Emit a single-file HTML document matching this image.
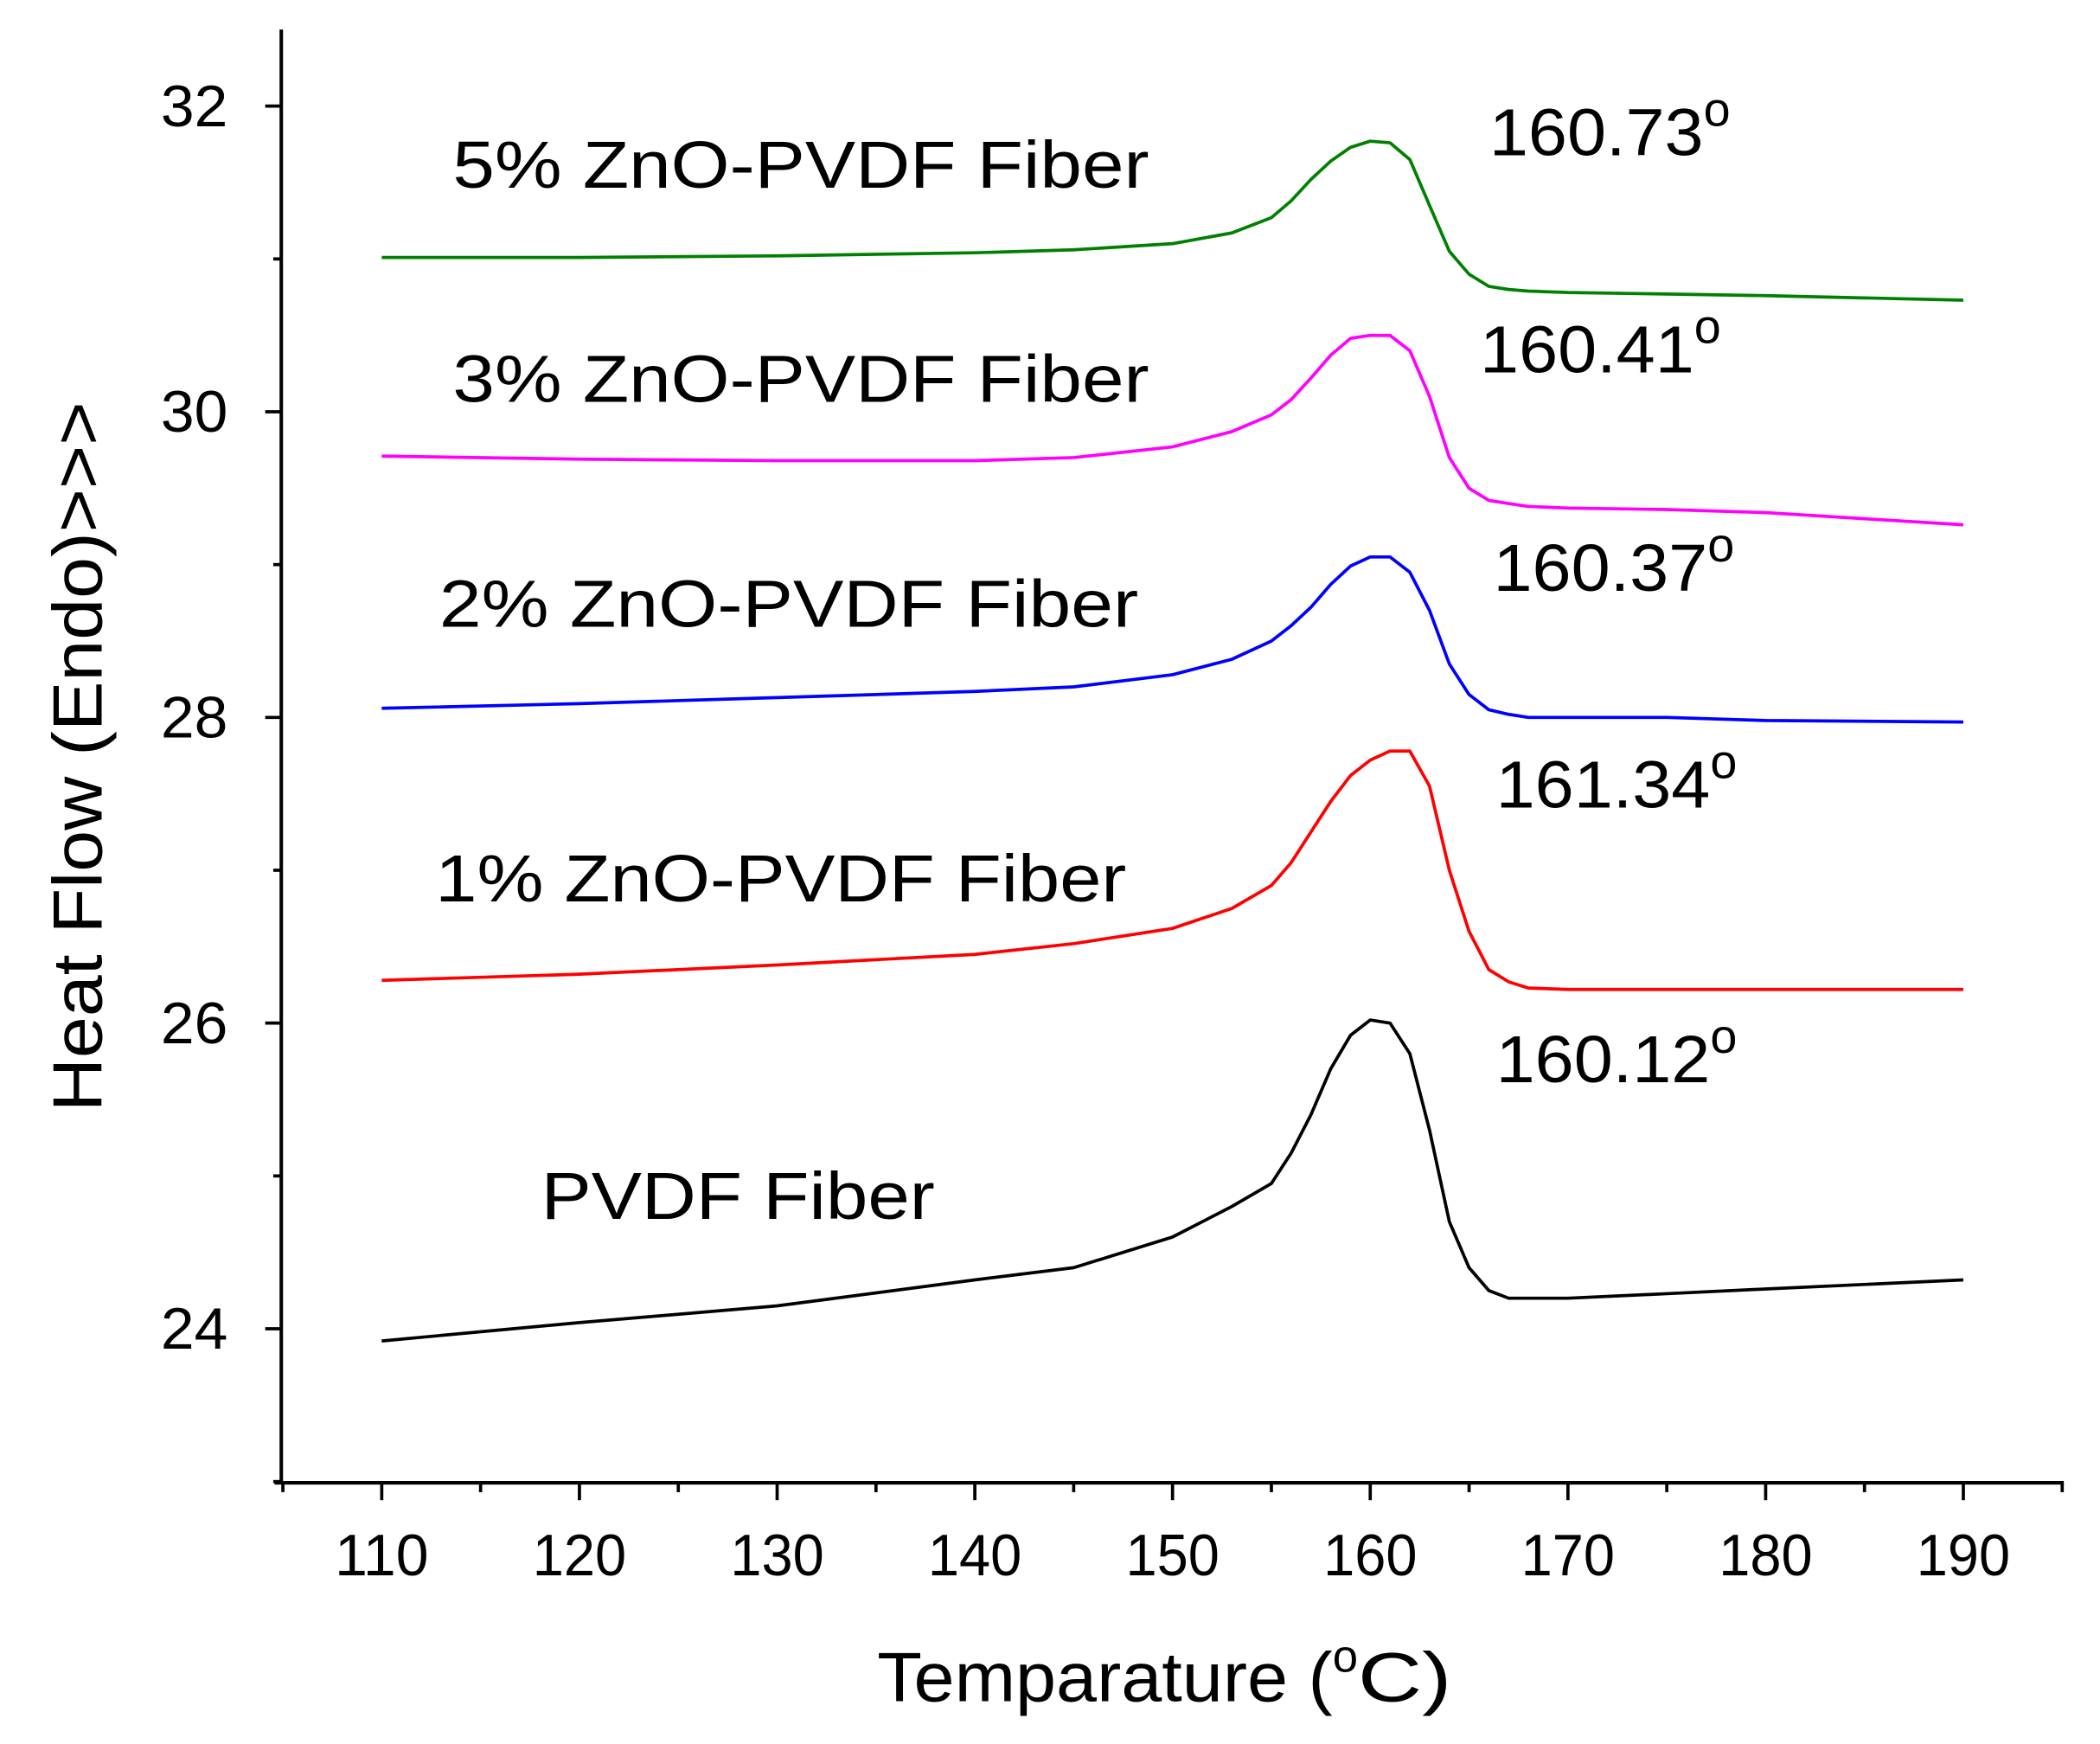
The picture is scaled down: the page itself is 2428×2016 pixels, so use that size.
<!DOCTYPE html>
<html><head><meta charset="utf-8"><style>
html,body{margin:0;padding:0;background:#fff}
svg{display:block}
text{font-family:"Liberation Sans",Arial,sans-serif;fill:#000}
</style></head><body>
<svg id="chart" width="2428" height="2016" viewBox="0 0 1568 1302" xmlns="http://www.w3.org/2000/svg">
<g id="axes"></g>
<g id="series"></g>
<g id="labels"></g>
</svg>
<script>
const xTicks = [110,120,130,140,150,160,170,180,190];
const yTicks = [24,26,28,30,32];
const temps = [110,120,130,140,145,150,153,155,156,157,158,159,160,161,162,163,164,165,166,167,168,170,175,180,190];
const pvdf  = [23.92,24.04,24.15,24.32,24.4,24.6,24.8,24.95,25.15,25.4,25.7,25.92,26.02,26.0,25.8,25.3,24.7,24.4,24.25,24.2,24.2,24.2,24.23,24.26,24.32];
const zno1  = [26.28,26.32,26.38,26.45,26.52,26.62,26.75,26.9,27.05,27.25,27.45,27.62,27.72,27.78,27.78,27.55,27.0,26.6,26.35,26.27,26.23,26.22,26.22,26.22,26.22];
const zno2  = [28.06,28.09,28.13,28.17,28.2,28.28,28.38,28.5,28.6,28.72,28.87,28.99,29.05,29.05,28.95,28.7,28.35,28.15,28.05,28.02,28.0,28.0,28.0,27.98,27.97];
const zno3  = [29.71,29.69,29.68,29.68,29.7,29.77,29.87,29.98,30.08,30.22,30.37,30.48,30.5,30.5,30.4,30.1,29.7,29.5,29.42,29.4,29.38,29.37,29.36,29.34,29.26];
const zno5  = [31.01,31.01,31.02,31.04,31.06,31.1,31.17,31.27,31.38,31.52,31.64,31.73,31.77,31.76,31.65,31.35,31.05,30.9,30.82,30.8,30.79,30.78,30.77,30.76,30.73];
const seriesNames = ["pvdf-fiber","zno-1pct","zno-2pct","zno-3pct","zno-5pct"];
const seriesColors = ["#000000","#ff0000","#0000ff","#ff00ff","#008000"];
const seriesLabels = ["PVDF Fiber","1% ZnO-PVDF Fiber","2% ZnO-PVDF Fiber","3% ZnO-PVDF Fiber","5% ZnO-PVDF Fiber"];
const peakLabels = ["160.12","161.34","160.37","160.41","160.73"];

const NS="http://www.w3.org/2000/svg";
const X=t=>285+(t-110)*14.7625;
const Y=v=>992-(v-24)*114.1;
function mk(tag,attrs,parent,txt){const e=document.createElementNS(NS,tag);for(const k in attrs)e.setAttribute(k,attrs[k]);if(txt!==undefined)e.textContent=txt;parent.appendChild(e);return e;}
const axes=document.getElementById('axes'),ser=document.getElementById('series'),lab=document.getElementById('labels');
let e;
e=mk('line',{x1:210,y1:22,x2:210,y2:1108,stroke:'#000','stroke-width':2.6},axes);


e=mk('line',{x1:205,y1:1107,x2:1541,y2:1107,stroke:'#000','stroke-width':2.6},axes);


for(let t=105;t<=195;t+=5){
  const major=xTicks.includes(t);
  e=mk('line',{x1:X(t),y1:1107,x2:X(t),y2:major?1120:1114,stroke:'#000','stroke-width':2.4},axes);
  
  
}
xTicks.forEach(t=>{
  e=mk('text',{x:X(t)-35,y:1176,'font-size':44,textLength:70,lengthAdjust:'spacingAndGlyphs'},axes,String(t));
  
  
});
for(let v=23;v<=32;v++){
  const major=yTicks.includes(v);
  e=mk('line',{x1:major?198:204,y1:Y(v),x2:210,y2:Y(v),stroke:'#000','stroke-width':2.4},axes);
  
  
}
yTicks.forEach(v=>{
  e=mk('text',{x:120,y:Y(v)+15,'font-size':44,textLength:50,lengthAdjust:'spacingAndGlyphs'},axes,String(v));
  
  
});
e=mk('text',{x:655,y:1270,'font-size':52},axes);


e.innerHTML='<tspan textLength="340" lengthAdjust="spacingAndGlyphs">Temparature (</tspan><tspan dy="-22" font-size="34">o</tspan><tspan dy="22" textLength="70" lengthAdjust="spacingAndGlyphs">C)</tspan>';
e=mk('text',{x:0,y:0,'font-size':52,textLength:530,lengthAdjust:'spacingAndGlyphs',transform:'translate(76,830) rotate(-90)'},axes,'Heat Flow (Endo)>>>');



const all=[pvdf,zno1,zno2,zno3,zno5];
all.forEach((vals,i)=>{
  let d='';
  temps.forEach((t,j)=>{d+=(j?'L':'M')+X(t).toFixed(1)+' '+Y(vals[j]).toFixed(1)+' ';});
  e=mk('path',{d:d,fill:'none',stroke:seriesColors[i],'stroke-width':2.4,'stroke-linejoin':'round'},ser);
  
  
});
const labPos=[[404,910,294],[325,673,516],[328,468,522],[338,300,520],[338,140,520]];
const peakPos=[[1117,808],[1117,603],[1115,441],[1105,278],[1112,116]];
seriesLabels.forEach((s,i)=>{
  e=mk('text',{x:labPos[i][0],y:labPos[i][1],'font-size':50,textLength:labPos[i][2],lengthAdjust:'spacingAndGlyphs'},lab,s);
  
  
  e=mk('text',{x:peakPos[i][0],y:peakPos[i][1],'font-size':50},lab);
  
  
  e.innerHTML='<tspan textLength="160" lengthAdjust="spacingAndGlyphs">'+peakLabels[i]+'</tspan><tspan dy="-22" font-size="36">o</tspan>';
});
</script>
</body></html>
